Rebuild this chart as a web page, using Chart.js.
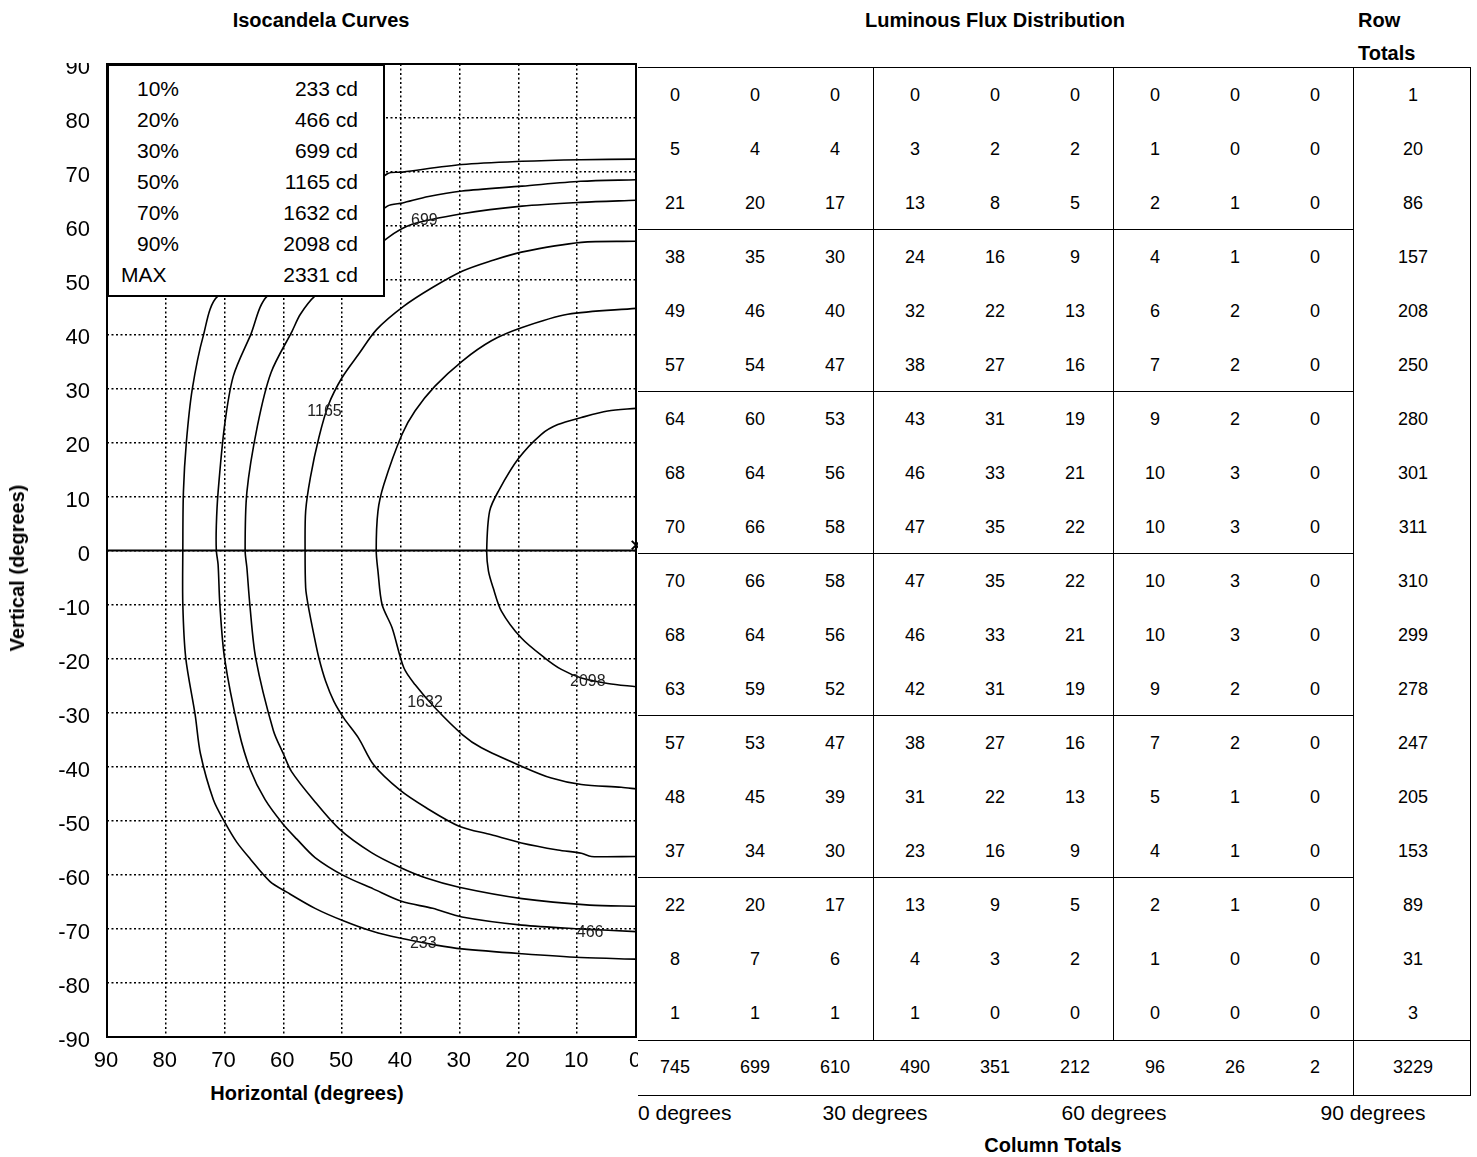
<!DOCTYPE html>
<html>
<head>
<meta charset="utf-8">
<script src="https://cdn.jsdelivr.net/npm/chart.js@4.4.0/dist/chart.umd.min.js"></script>
<style>
  body { margin: 0; background: #fff; font-family: "Liberation Sans", Arial, sans-serif; color: #000; }
  #page { position: relative; width: 1477px; height: 1157px; overflow: hidden; }
  #isoCanvas { position: absolute; left: 0; top: 63px; }
  .t { position: absolute; white-space: nowrap; line-height: 1; }
  .ln { position: absolute; background: #000; }
  #legendBox { position: absolute; left: 107px; top: 64px; width: 278px; height: 233px; box-sizing: border-box; border: 2px solid #000; background: #fff; }
</style>
</head>
<body>
<div id="page">
  <canvas id="isoCanvas" width="638" height="1017"></canvas>
  <div id="legendBox"></div>
</div>
<script>
// === Isocandela levels ===
const isoPercent = ['10%', '20%', '30%', '50%', '70%', '90%'];
const isoCandela = [233, 466, 699, 1165, 1632, 2098];
const maxCandela = 2331;

// contour traces [horizontal deg, vertical deg]
const curve233 = [[0, 72.4], [9.4, 72.3], [19.4, 72.0], [29.6, 71.4], [39.7, 70.0], [42.3, 69.7],
  [71.1, 47.1], [73.6, 39.8], [75.5, 29.8], [76.5, 20.0], [77.0, 10.8], [77.1, 0], [77.1, -10],
  [76.6, -19.9], [75.0, -30.4], [74.1, -37.6], [71.9, -46.1], [69.9, -50.4], [67.9, -54.0],
  [65.6, -57.1], [62.3, -61.2], [59.4, -63.2], [54.6, -66.2], [49.8, -68.5], [44.7, -70.5],
  [40.2, -71.7], [34.0, -73.0], [29.6, -73.7], [19.4, -74.6], [9.4, -75.3], [0, -75.6]];
const curve466 = [[0, 68.6], [9.4, 68.3], [19.4, 67.4], [29.6, 66.5], [35.3, 65.5], [39.7, 64.3],
  [42.3, 63.7], [62.7, 47.1], [65.6, 39.8], [68.5, 32.3], [70.0, 23.1], [71.1, 10.8], [71.4, 4.6],
  [71.4, 0], [71.1, -2.6], [70.8, -10.0], [70.0, -19.9], [67.6, -33.3], [65.6, -40.6],
  [63.1, -46.1], [60.0, -50.7], [57.7, -53.4], [54.6, -56.8], [49.8, -60.1], [44.7, -62.6],
  [39.9, -64.9], [34.6, -66.2], [29.6, -67.8], [19.4, -69.3], [9.4, -70.0], [0, -70.5]];
const curve699 = [[0, 64.8], [9.4, 64.4], [19.4, 63.7], [29.6, 62.3], [38.2, 60.3], [42.3, 57.8],
  [54.6, 47.1], [57.1, 43.7], [58.5, 40.6], [62.1, 32.9], [64.4, 23.1], [66.2, 10.8], [66.5, 0],
  [66.2, -3.2], [65.7, -10.0], [64.7, -19.9], [61.7, -33.3], [60.0, -37.6], [58.6, -40.9],
  [54.9, -46.1], [50.4, -51.6], [45.0, -55.9], [40.2, -58.6], [35.7, -60.6], [30.1, -62.3],
  [19.4, -64.4], [7.9, -65.6], [0, -65.8]];
const curve1165 = [[0, 57.2], [9.3, 57.0], [19.5, 55.2], [24.6, 53.6], [29.5, 51.7], [34.7, 48.6],
  [39.5, 45.2], [44.1, 40.9], [47.2, 36.3], [50.0, 32.0], [52.3, 27.0], [53.95, 20.9], [55.4, 13.5],
  [56.2, 7.3], [56.3, 0], [56.2, -6.9], [55.8, -10.0], [54.8, -15.6], [53.95, -19.9], [52.8, -24.2],
  [51.4, -27.9], [49.7, -31.0], [47.2, -34.7], [44.6, -39.7], [40.2, -44.3], [35.7, -47.6],
  [30.1, -51.0], [24.6, -52.6], [19.5, -54.1], [13.3, -55.4], [9.3, -56.0], [7.6, -56.6], [0, -56.6]];
const curve1632 = [[0, 44.8], [11.6, 43.7], [19.5, 41.2], [24.6, 38.8], [29.5, 35.1], [34.2, 30.4],
  [37.6, 25.8], [39.8, 21.5], [42.9, 12.2], [43.9, 7.3], [44.2, 0], [43.9, -3.8], [43.2, -10.0],
  [41.5, -14.3], [39.5, -21.7], [37.6, -24.8], [34.2, -29.1], [29.5, -34.1], [26.3, -36.5],
  [19.5, -39.9], [14.4, -42.1], [9.3, -43.3], [2.5, -43.8], [0, -44.1]];
const curve2098 = [[0, 26.3], [4.8, 25.8], [9.3, 24.6], [13.3, 23.3], [16.1, 21.5], [20.0, 17.0],
  [23.4, 11.0], [24.9, 7.3], [25.4, 0], [25.1, -3.8], [24.3, -6.9], [22.9, -11.2],
  [19.5, -16.2], [15.5, -19.9], [12.7, -22.0], [9.3, -23.6], [4.8, -24.6], [0, -25.2]];
const isoCurves = [curve233, curve466, curve699, curve1165, curve1632, curve2098];

// where each level value is written on its curve
const curveLabelAt = [[36.2, -72.8], [7.8, -70.6], [36, 61], [53, 25.7], [35.9, -28.1], [8.2, -24.3]];

// === Luminous flux table ===
const fluxRows = [
  [0, 0, 0, 0, 0, 0, 0, 0, 0],
  [5, 4, 4, 3, 2, 2, 1, 0, 0],
  [21, 20, 17, 13, 8, 5, 2, 1, 0],
  [38, 35, 30, 24, 16, 9, 4, 1, 0],
  [49, 46, 40, 32, 22, 13, 6, 2, 0],
  [57, 54, 47, 38, 27, 16, 7, 2, 0],
  [64, 60, 53, 43, 31, 19, 9, 2, 0],
  [68, 64, 56, 46, 33, 21, 10, 3, 0],
  [70, 66, 58, 47, 35, 22, 10, 3, 0],
  [70, 66, 58, 47, 35, 22, 10, 3, 0],
  [68, 64, 56, 46, 33, 21, 10, 3, 0],
  [63, 59, 52, 42, 31, 19, 9, 2, 0],
  [57, 53, 47, 38, 27, 16, 7, 2, 0],
  [48, 45, 39, 31, 22, 13, 5, 1, 0],
  [37, 34, 30, 23, 16, 9, 4, 1, 0],
  [22, 20, 17, 13, 9, 5, 2, 1, 0],
  [8, 7, 6, 4, 3, 2, 1, 0, 0],
  [1, 1, 1, 1, 0, 0, 0, 0, 0]
];
const rowTotals = [1, 20, 86, 157, 208, 250, 280, 301, 311, 310, 299, 278, 247, 205, 153, 89, 31, 3];
const columnTotals = [745, 699, 610, 490, 351, 212, 96, 26, 2];
const grandTotal = 3229;
const degreeMarks = ['0 degrees', '30 degrees', '60 degrees', '90 degrees'];

const FONT = '"Liberation Sans", Arial, sans-serif';
const page = document.getElementById('page');

function addText(str, x, y, align, size, bold, rotate) {
  const d = document.createElement('div');
  d.className = 't';
  d.textContent = str;
  d.style.left = x + 'px';
  d.style.top = y + 'px';
  d.style.fontSize = size + 'px';
  if (bold) d.style.fontWeight = 'bold';
  const tx = align === 'left' ? '0' : (align === 'right' ? '-100%' : '-50%');
  d.style.transform = `translate(${tx}, -50%)` + (rotate ? ' rotate(-90deg)' : '');
  page.appendChild(d);
  return d;
}

function addLine(x1, y1, x2, y2) {
  const d = document.createElement('div');
  d.className = 'ln';
  d.style.left = Math.min(x1, x2) + 'px';
  d.style.top = Math.min(y1, y2) + 'px';
  d.style.width = Math.max(Math.abs(x2 - x1), 1) + 'px';
  d.style.height = Math.max(Math.abs(y2 - y1), 1) + 'px';
  page.appendChild(d);
}

window.addEventListener('DOMContentLoaded', () => {
  Chart.defaults.font.family = FONT;

  // === Isocandela chart ===
  const datasets = isoCurves.map(c => ({
    data: c.map(p => ({ x: p[0], y: p[1] })),
    showLine: true,
    borderColor: '#000',
    borderWidth: 1.6,
    pointRadius: 0,
    tension: 0.3,
    fill: false
  }));
  // the maximum point
  datasets.push({
    data: [{ x: 0, y: 1 }],
    showLine: false,
    pointStyle: 'crossRot',
    pointRadius: 6,
    borderColor: '#000',
    borderWidth: 2,
    clip: false
  });

  const curveExtras = {
    id: 'curveExtras',
    afterDatasetsDraw(chart) {
      const { ctx, chartArea: a, scales: { x, y } } = chart;
      ctx.save();
      ctx.font = '16px ' + FONT;
      ctx.fillStyle = '#222';
      ctx.textAlign = 'center';
      ctx.textBaseline = 'middle';
      curveLabelAt.forEach((p, i) => {
        ctx.fillText(String(isoCandela[i]), x.getPixelForValue(p[0]), y.getPixelForValue(p[1]));
      });
      ctx.strokeStyle = '#000';
      ctx.lineWidth = 2;
      const y0 = y.getPixelForValue(0);
      ctx.beginPath();
      ctx.moveTo(a.left, y0);
      ctx.lineTo(a.right, y0);
      ctx.stroke();
      ctx.strokeRect(a.left, a.top, a.right - a.left, a.bottom - a.top);
      ctx.restore();
    }
  };

  const tickFont = { size: 22, family: FONT };
  const gridOpts = { color: '#000', lineWidth: 1.5, drawTicks: false };
  const borderOpts = { display: false, dash: [2, 2.5] };

  new Chart(document.getElementById('isoCanvas'), {
    type: 'scatter',
    data: { datasets: datasets },
    options: {
      responsive: false,
      animation: false,
      layout: { autoPadding: false, padding: { top: 1, right: 2, bottom: 0, left: 0 } },
      plugins: { legend: { display: false }, tooltip: { enabled: false } },
      scales: {
        x: {
          type: 'linear', reverse: true, min: 0, max: 90,
          ticks: { stepSize: 10, autoSkip: false, maxRotation: 0, color: '#000', font: tickFont, padding: 11, labelOffset: -1 },
          grid: gridOpts,
          border: borderOpts,
          afterFit(s) { s.height = 43; s.paddingLeft = 0; s.paddingRight = 0; }
        },
        y: {
          type: 'linear', min: -90, max: 90,
          ticks: { stepSize: 10, autoSkip: false, color: '#000', font: tickFont, padding: 17, labelOffset: 4 },
          grid: gridOpts,
          border: borderOpts,
          afterFit(s) { s.width = 107; s.paddingTop = 0; s.paddingBottom = 0; }
        }
      }
    },
    plugins: [curveExtras]
  });

  // === Legend box ===
  isoPercent.concat(['MAX']).forEach((p, i) => {
    const cd = i < isoCandela.length ? isoCandela[i] : maxCandela;
    addText(p, p === 'MAX' ? 121 : 137, 88 + 31 * i, 'left', 21);
    addText(cd + ' cd', 358, 88 + 31 * i, 'right', 21);
  });

  // === Titles ===
  addText('Isocandela Curves', 321, 20, 'center', 20, true);
  addText('Luminous Flux Distribution', 995, 20, 'center', 20, true);
  addText('Row', 1358, 20, 'left', 20, true);
  addText('Totals', 1358, 53, 'left', 20, true);
  addText('Horizontal (degrees)', 307, 1093, 'center', 20, true);
  addText('Vertical (degrees)', 17, 568, 'center', 20, true, true);
  addText('Column Totals', 1053, 1145, 'center', 20, true);

  // === Flux table ===
  const colX = c => 675 + 80 * c;
  const rowY = r => 95 + 54 * r;
  fluxRows.forEach((row, r) => {
    row.forEach((v, c) => addText(String(v), colX(c), rowY(r), 'center', 18));
    addText(String(rowTotals[r]), 1413, rowY(r), 'center', 18);
  });
  columnTotals.forEach((v, c) => addText(String(v), colX(c), 1067, 'center', 18));
  addText(String(grandTotal), 1413, 1067, 'center', 18);

  addText(degreeMarks[0], 638, 1112, 'left', 21);
  addText(degreeMarks[1], 875, 1112, 'center', 21);
  addText(degreeMarks[2], 1114, 1112, 'center', 21);
  addText(degreeMarks[3], 1373, 1112, 'center', 21);

  // table rules
  addLine(638, 67, 1471, 68);
  for (let k = 1; k <= 5; k++) addLine(638, 67 + 162 * k, 1353, 68 + 162 * k);
  addLine(638, 1040, 1471, 1041);
  addLine(638, 1095, 1471, 1096);
  addLine(873, 67, 874, 1040);
  addLine(1113, 67, 1114, 1040);
  addLine(1353, 67, 1354, 1096);
  addLine(1470, 67, 1471, 1096);
});
</script>
</body>
</html>
